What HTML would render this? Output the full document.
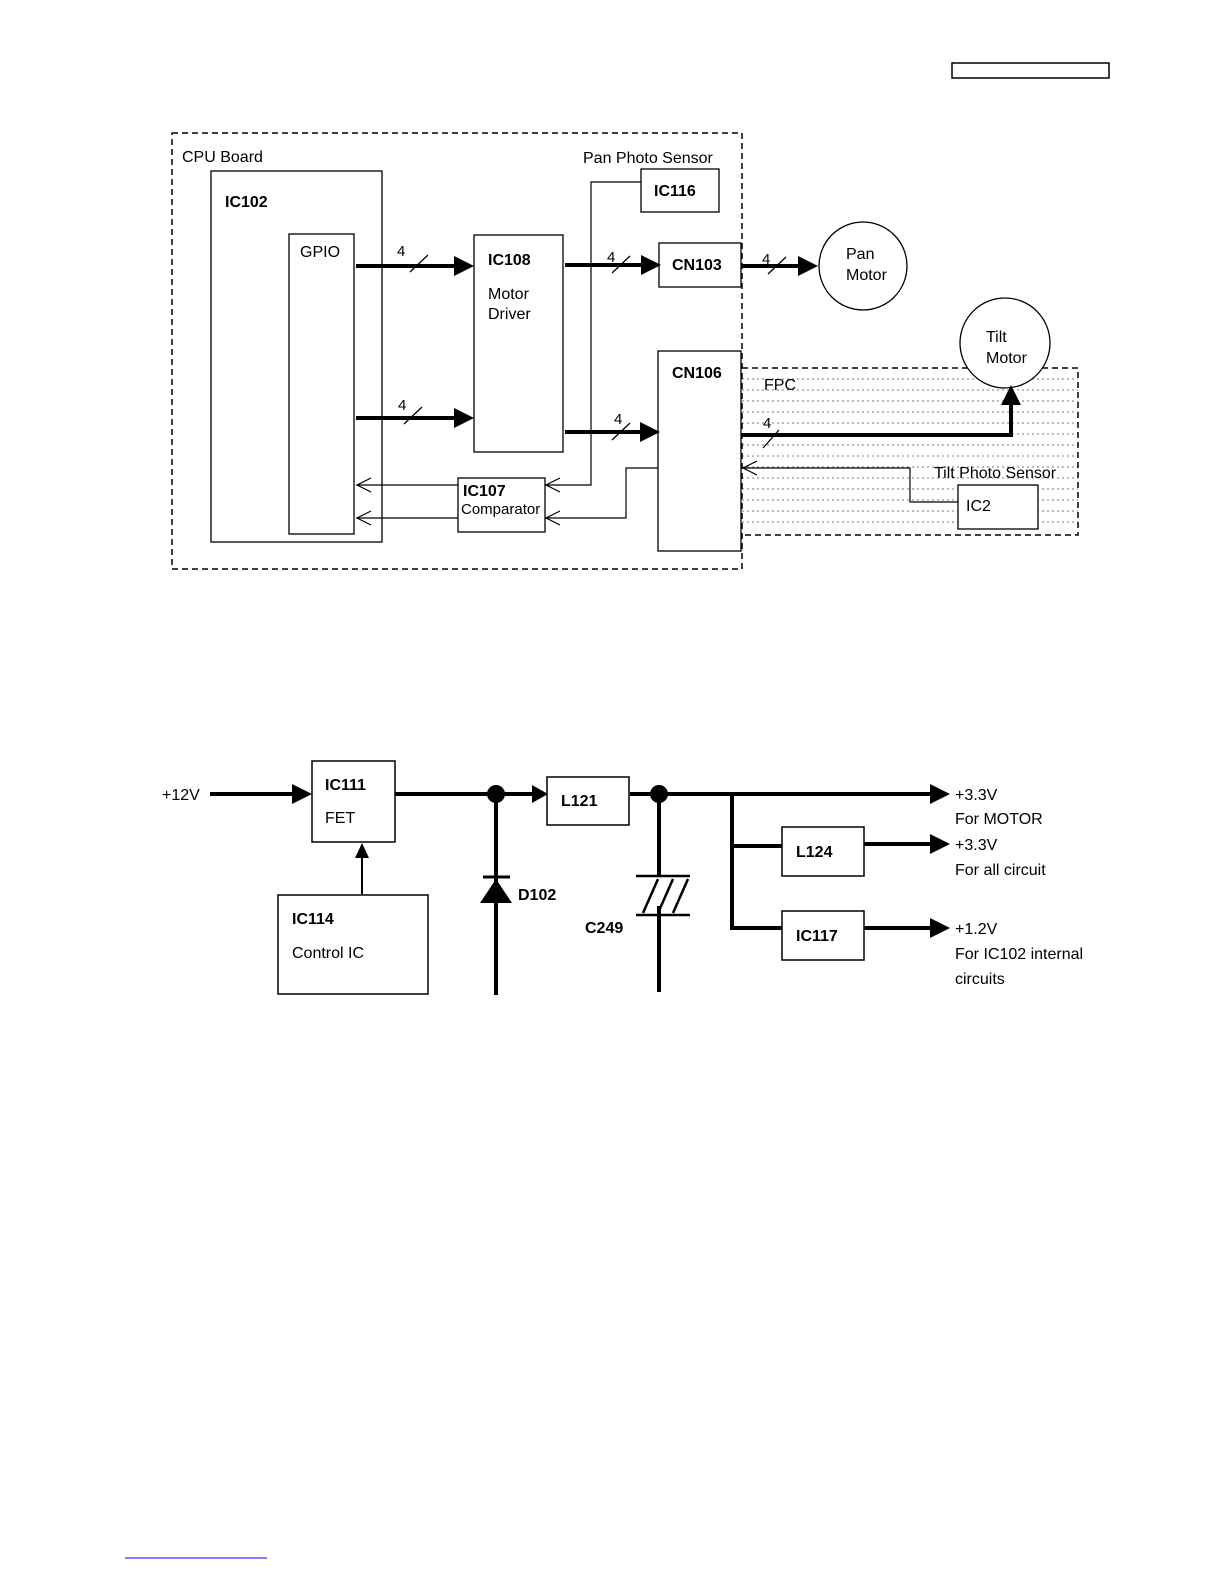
<!DOCTYPE html>
<html><head><meta charset="utf-8"><style>
html,body{margin:0;padding:0;background:#fff}
svg{display:block}
text{font-family:"Liberation Sans",sans-serif;fill:#000}
.b{font-weight:bold}
</style></head><body>
<svg width="1224" height="1584" viewBox="0 0 1224 1584" xmlns="http://www.w3.org/2000/svg">
<defs>
<marker id="ah" markerWidth="10" markerHeight="10" refX="9" refY="5" orient="auto" markerUnits="userSpaceOnUse">
</marker>
</defs>
<rect x="952" y="63" width="157" height="15" fill="none" stroke="#000" stroke-width="1.5"/>
<line x1="125" y1="1558" x2="267" y2="1558" stroke="#00f" stroke-width="1"/>

<!-- FPC dotted area -->
<g stroke="#777" stroke-width="1" stroke-dasharray="2,3">
<line x1="742" y1="379" x2="1078" y2="379"/><line x1="742" y1="390" x2="1078" y2="390"/>
<line x1="742" y1="401" x2="1078" y2="401"/><line x1="742" y1="412" x2="1078" y2="412"/>
<line x1="742" y1="423" x2="1078" y2="423"/><line x1="742" y1="434" x2="1078" y2="434"/>
<line x1="742" y1="445" x2="1078" y2="445"/><line x1="742" y1="456" x2="1078" y2="456"/>
<line x1="742" y1="467" x2="1078" y2="467"/><line x1="742" y1="478" x2="1078" y2="478"/>
<line x1="742" y1="489" x2="1078" y2="489"/><line x1="742" y1="500" x2="1078" y2="500"/>
<line x1="742" y1="511" x2="1078" y2="511"/><line x1="742" y1="522" x2="1078" y2="522"/>
</g>
<path d="M742 368 H1078 V535 H742" fill="none" stroke="#000" stroke-width="1.5" stroke-dasharray="6,4"/>
<rect x="172" y="133" width="570" height="436" fill="none" stroke="#000" stroke-width="1.5" stroke-dasharray="6,4"/>

<text x="182" y="162" font-size="16">CPU Board</text>
<text x="583" y="163" font-size="16">Pan Photo Sensor</text>
<rect x="211" y="171" width="171" height="371" fill="none" stroke="#000" stroke-width="1.3"/>
<text x="225" y="207" font-size="16" class="b">IC102</text>
<rect x="289" y="234" width="65" height="300" fill="none" stroke="#000" stroke-width="1.3"/>
<text x="300" y="257" font-size="16">GPIO</text>
<rect x="474" y="235" width="89" height="217" fill="none" stroke="#000" stroke-width="1.3"/>
<text x="488" y="265" font-size="16" class="b">IC108</text>
<text x="488" y="299" font-size="16">Motor</text>
<text x="488" y="319" font-size="16">Driver</text>
<rect x="641" y="169" width="78" height="43" fill="#fff" stroke="#000" stroke-width="1.3"/>
<text x="654" y="196" font-size="16" class="b">IC116</text>
<rect x="659" y="243" width="82" height="44" fill="#fff" stroke="#000" stroke-width="1.3"/>
<text x="672" y="270" font-size="16" class="b">CN103</text>
<rect x="658" y="351" width="83" height="200" fill="#fff" stroke="#000" stroke-width="1.3"/>
<text x="672" y="378" font-size="16" class="b">CN106</text>
<text x="764" y="390" font-size="16">FPC</text>
<rect x="458" y="478" width="87" height="54" fill="#fff" stroke="#000" stroke-width="1.3"/>
<text x="463" y="496" font-size="16" class="b">IC107</text>
<text x="461" y="514" font-size="15">Comparator</text>
<circle cx="863" cy="266" r="44" fill="#fff" stroke="#000" stroke-width="1.3"/>
<text x="846" y="259" font-size="16">Pan</text>
<text x="846" y="280" font-size="16">Motor</text>
<circle cx="1005" cy="343" r="45" fill="#fff" stroke="#000" stroke-width="1.3"/>
<text x="986" y="342" font-size="16">Tilt</text>
<text x="986" y="363" font-size="16">Motor</text>
<text x="934" y="478" font-size="16">Tilt Photo Sensor</text>
<rect x="958" y="485" width="80" height="44" fill="#fff" stroke="#000" stroke-width="1.3"/>
<text x="966" y="511" font-size="16">IC2</text>

<!-- thick bus arrows -->
<g stroke="#000" stroke-width="4" fill="none">
<line x1="356" y1="266" x2="458" y2="266"/>
<line x1="356" y1="418" x2="458" y2="418"/>
<line x1="565" y1="265" x2="645" y2="265"/>
<line x1="565" y1="432" x2="643" y2="432"/>
<line x1="742" y1="266" x2="802" y2="266"/>
<path d="M742 435 H1011 V400"/>
</g>
<g fill="#000">
<polygon points="474,266 454,256 454,276"/>
<polygon points="474,418 454,408 454,428"/>
<polygon points="661,265 641,255 641,275"/>
<polygon points="660,432 640,422 640,442"/>
<polygon points="818,266 798,256 798,276"/>
<polygon points="1011,385 1001,405 1021,405"/>
</g>
<g stroke="#000" stroke-width="1.3">
<line x1="410" y1="272" x2="428" y2="255"/><line x1="404" y1="424" x2="422" y2="407"/>
<line x1="612" y1="273" x2="630" y2="256"/><line x1="612" y1="440" x2="630" y2="423"/>
<line x1="768" y1="274" x2="786" y2="257"/><line x1="763" y1="448" x2="779" y2="430"/>
</g>
<g font-size="15">
<text x="397" y="256">4</text><text x="398" y="410">4</text><text x="607" y="262">4</text>
<text x="614" y="424">4</text><text x="762" y="264">4</text><text x="763" y="428">4</text>
</g>

<!-- thin signal lines -->
<g stroke="#000" stroke-width="1.2" fill="none">
<path d="M641 182 H591 V485 H545"/>
<path d="M658 468 H626 V518 H545"/>
<line x1="356" y1="485" x2="458" y2="485"/>
<line x1="356" y1="518" x2="458" y2="518"/>
<path d="M958 502 H910 V468 H742"/>
<path d="M560 478 L546 485 L560 492"/>
<path d="M560 511 L546 518 L560 525"/>
<path d="M371 478 L357 485 L371 492"/>
<path d="M371 511 L357 518 L371 525"/>
<path d="M757 461 L743 468 L757 475"/>
</g>

<!-- power diagram -->
<text x="162" y="800" font-size="16">+12V</text>
<g stroke="#000" stroke-width="4" fill="none">
<line x1="210" y1="794" x2="296" y2="794"/>
<line x1="395" y1="794" x2="532" y2="794"/>
<line x1="630" y1="794" x2="935" y2="794"/>
<path d="M732 794 V928 H782"/>
<line x1="732" y1="846" x2="782" y2="846"/>
<line x1="864" y1="844" x2="935" y2="844"/>
<line x1="864" y1="928" x2="935" y2="928"/>
<line x1="496" y1="794" x2="496" y2="995"/>
<line x1="659" y1="794" x2="659" y2="876"/>
<line x1="659" y1="906" x2="659" y2="992"/>
</g>
<line x1="362" y1="894" x2="362" y2="858" stroke="#000" stroke-width="2"/>
<polygon points="362,843 355,858 369,858" fill="#000"/>
<g fill="#000">
<polygon points="312,794 292,784 292,804"/>
<polygon points="548,794 532,785 532,803"/>
<polygon points="950,794 930,784 930,804"/>
<polygon points="950,844 930,834 930,854"/>
<polygon points="950,928 930,918 930,938"/>
<circle cx="496" cy="794" r="9"/>
<circle cx="659" cy="794" r="9"/>
<polygon points="496,879 480,903 512,903"/>
</g>
<line x1="483" y1="877" x2="510" y2="877" stroke="#000" stroke-width="3"/>
<g stroke="#000" stroke-width="2.5">
<line x1="636" y1="876" x2="690" y2="876"/>
<line x1="636" y1="915" x2="690" y2="915"/>
<line x1="643" y1="913" x2="658" y2="879"/>
<line x1="658" y1="913" x2="673" y2="879"/>
<line x1="673" y1="913" x2="688" y2="879"/>
</g>
<rect x="312" y="761" width="83" height="81" fill="#fff" stroke="#000" stroke-width="1.5"/>
<text x="325" y="790" font-size="16" class="b">IC111</text>
<text x="325" y="823" font-size="16">FET</text>
<rect x="278" y="895" width="150" height="99" fill="#fff" stroke="#000" stroke-width="1.5"/>
<text x="292" y="924" font-size="16" class="b">IC114</text>
<text x="292" y="958" font-size="16">Control IC</text>
<rect x="547" y="777" width="82" height="48" fill="#fff" stroke="#000" stroke-width="1.5"/>
<text x="561" y="806" font-size="16" class="b">L121</text>
<rect x="782" y="827" width="82" height="49" fill="#fff" stroke="#000" stroke-width="1.5"/>
<text x="796" y="857" font-size="16" class="b">L124</text>
<rect x="782" y="911" width="82" height="49" fill="#fff" stroke="#000" stroke-width="1.5"/>
<text x="796" y="941" font-size="16" class="b">IC117</text>
<text x="518" y="900" font-size="16" class="b">D102</text>
<text x="585" y="933" font-size="16" class="b">C249</text>
<g font-size="16">
<text x="955" y="800">+3.3V</text><text x="955" y="824">For MOTOR</text>
<text x="955" y="850">+3.3V</text><text x="955" y="875">For all circuit</text>
<text x="955" y="934">+1.2V</text><text x="955" y="959">For IC102 internal</text>
<text x="955" y="984">circuits</text>
</g>
</svg>
</body></html>
